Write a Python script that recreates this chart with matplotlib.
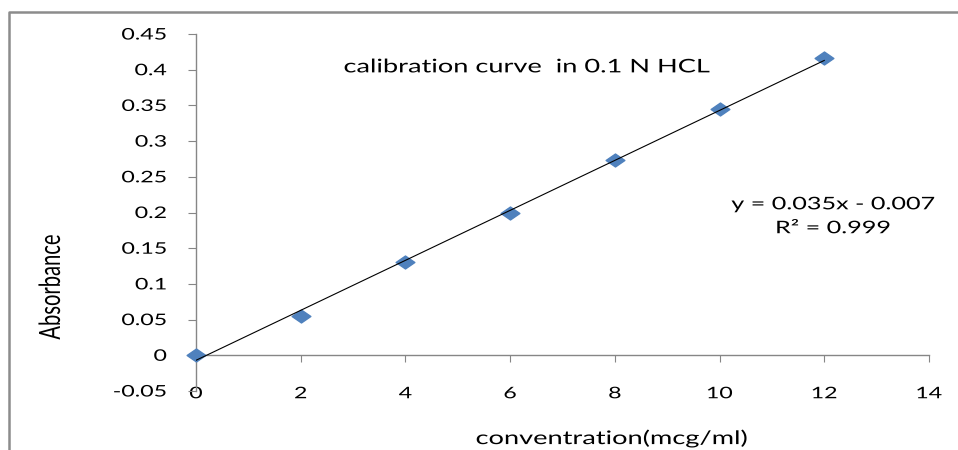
import numpy as np
import matplotlib
matplotlib.use("Agg")
import matplotlib.pyplot as plt
from matplotlib.lines import Line2D
from matplotlib.path import Path
from matplotlib.transforms import Affine2D
from matplotlib.patheffects import AbstractPathEffect

# calibration data
conc = [0, 2, 4, 6, 8, 10, 12]
absorb = [0.0, 0.055, 0.131, 0.200, 0.274, 0.345, 0.417]
slope, intercept, r2 = 0.035, -0.007, 0.999

xticks = [0, 2, 4, 6, 8, 10, 12, 14]
yticks = [-0.05, 0, 0.05, 0.1, 0.15, 0.2, 0.25, 0.3, 0.35, 0.4, 0.45]

plt.rcParams['font.family'] = ['Lato', 'DejaVu Sans']
axis_grey = '#868686'
WIDE = 1.45


class HStretch(AbstractPathEffect):
    """Widen drawn text horizontally about its left, centre or right edge."""

    def __init__(self, sx=WIDE, anchor='center'):
        super().__init__()
        self.sx = sx
        self.anchor = anchor

    def draw_path(self, renderer, gc, tpath, affine, rgbFace=None):
        bb = tpath.get_extents(affine)
        ax0 = {'left': bb.x0, 'right': bb.x1}.get(self.anchor, (bb.x0 + bb.x1) / 2)
        aff = affine + Affine2D().translate(-ax0, 0).scale(self.sx, 1).translate(ax0, 0)
        renderer.draw_path(gc, tpath, aff, rgbFace)


# wide diamond marker
diamond = Path([(-WIDE, 0), (0, 1), (WIDE, 0), (0, -1), (-WIDE, 0)],
               [Path.MOVETO, Path.LINETO, Path.LINETO, Path.LINETO, Path.CLOSEPOLY])

fig = plt.figure(figsize=(9.58, 4.5), dpi=100)
ax = fig.add_axes([0.2046, 0.1311, 0.7651, 0.7933])

ax.plot(conc, absorb, linestyle='none', marker=diamond, markersize=13.5,
        color='#4F81BD', zorder=3, clip_on=False)
fx = np.array([conc[0], conc[-1]])
ax.plot(fx, slope * fx + intercept, color='black', lw=0.8, zorder=4)

ax.set_xlim(0, 14)
ax.set_ylim(-0.05, 0.45)
ax.set_xticks(xticks)
ax.set_yticks(yticks)
ax.set_xticklabels([str(t) for t in xticks])
ax.set_yticklabels(['{:g}'.format(t) for t in yticks])

for s in ['top', 'right']:
    ax.spines[s].set_visible(False)
ax.spines['bottom'].set_position(('data', 0))
for s in ['bottom', 'left']:
    ax.spines[s].set_color(axis_grey)
    ax.spines[s].set_linewidth(1)

ax.tick_params(axis='x', direction='out', length=5, color=axis_grey,
               labelsize=11.5, pad=18)
ax.tick_params(axis='y', direction='out', length=6, color=axis_grey,
               labelsize=11.5, pad=15)
for lbl in ax.get_xticklabels():
    lbl.set_path_effects([HStretch(anchor='center')])
for lbl in ax.get_yticklabels():
    lbl.set_path_effects([HStretch(anchor='right')])

ax.set_xlabel('conventration(mcg/ml)', fontsize=13.5, labelpad=20, x=0.5675,
              path_effects=[HStretch()])
ax.set_ylabel('Absorbance', fontsize=14.5, labelpad=50, y=0.291,
              path_effects=[HStretch()])

ax.text(6.32, 0.404, 'calibration curve  in 0.1 N HCL', fontsize=13.5,
        ha='center', va='center', path_effects=[HStretch()])
ax.text(12.17, 0.2115, 'y = {:.3f}x - {:.3f}'.format(slope, -intercept),
        fontsize=12.5, ha='center', va='center', path_effects=[HStretch()])
ax.text(12.17, 0.178, 'R² = {:.3f}'.format(r2), fontsize=12.5,
        ha='center', va='center', path_effects=[HStretch()])

# chart area border (left and top edges)
fig.add_artist(Line2D([9 / 958, 9 / 958, 1.0], [0.0, 1 - 12 / 450, 1 - 12 / 450],
                      transform=fig.transFigure, color='#8c8c8c', lw=1.8))

fig.savefig('out.png', dpi=100, facecolor='white')
